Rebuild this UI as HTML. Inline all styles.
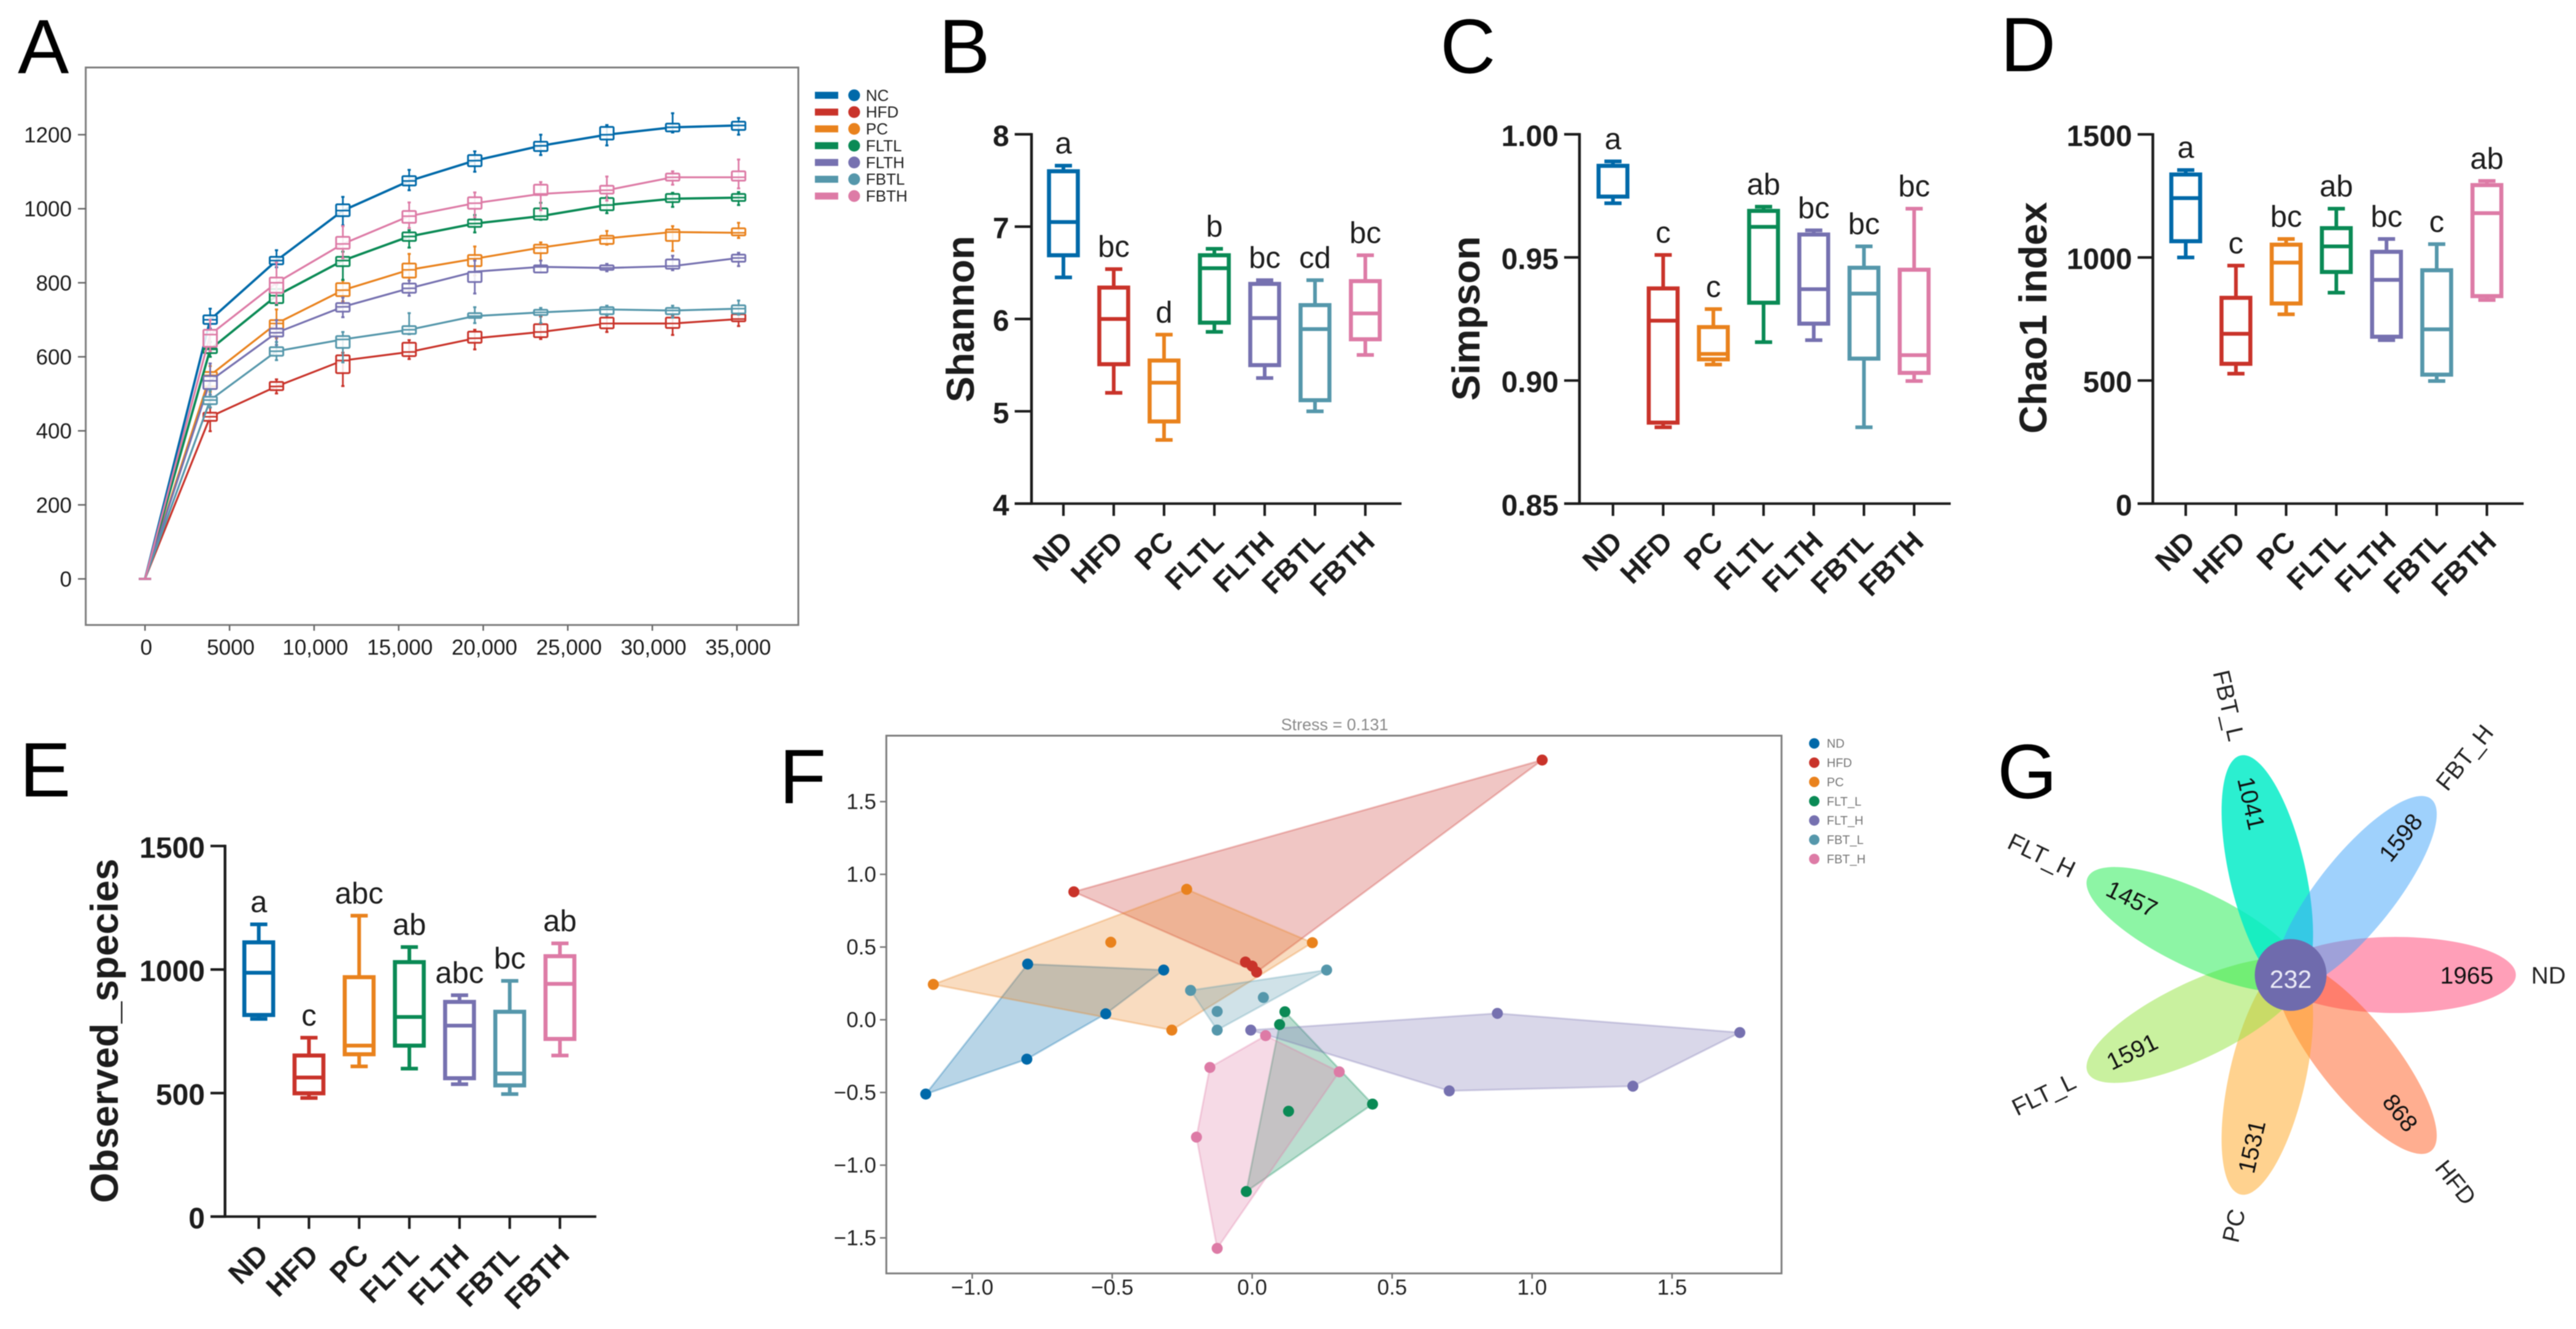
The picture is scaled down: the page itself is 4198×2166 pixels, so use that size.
<!DOCTYPE html>
<html lang="en">
<head>
<meta charset="utf-8">
<title>Gut microbiota diversity figure</title>
<style>
html,body{margin:0;padding:0;background:#fff;}
svg{display:block;filter:blur(0.9px);font-family:"Liberation Sans",Arial,sans-serif;}
</style>
</head>
<body>
<svg id="figure" xmlns="http://www.w3.org/2000/svg" width="4198" height="2166" viewBox="0 0 4198 2166">
  <rect width="4198" height="2166" fill="#fff"/>
  <g id="panelA"></g>
  <g id="panelB"></g>
  <g id="panelC"></g>
  <g id="panelD"></g>
  <g id="panelE"></g>
  <g id="panelF"></g>
  <g id="panelG"></g>
  <text x="29" y="119" font-size="125" fill="#000">A</text>
  <text x="1530" y="119" font-size="125" fill="#000">B</text>
  <text x="2347" y="119" font-size="125" fill="#000">C</text>
  <text x="3260" y="116" font-size="125" fill="#000">D</text>
  <text x="32" y="1298" font-size="125" fill="#000">E</text>
  <text x="1270" y="1309" font-size="125" fill="#000">F</text>
  <text x="3255" y="1301" font-size="125" fill="#000">G</text>
</svg>
<script>
/* ---------- shared ---------- */
const groupColors = ['#0069a9','#c9332a','#e9821d','#0a8a55','#7671b0','#5597ab','#dd7ba6'];
const categories = ['ND','HFD','PC','FLTL','FLTH','FBTL','FBTH'];

/* ---------- panel A: rarefaction ---------- */
const rareDepths = [0,3853,7775,11700,15620,19500,23400,27310,31200,35100];
const rareNames = ['NC','HFD','PC','FLTL','FLTH','FBTL','FBTH'];
const rareXTicks = [0,5000,10000,15000,20000,25000,30000,35000];
const rareXLabels = ['0','5000','10,000','15,000','20,000','25,000','30,000','35,000'];
const rareYTicks = [0,200,400,600,800,1000,1200];

const ncMid = [0,700,860,995,1075,1130,1170,1200,1220,1225];
const ncQ3  = [0,712,870,1012,1088,1145,1181,1221,1230,1235];
const ncQ1  = [0,689,850,980,1063,1115,1156,1187,1209,1213];
const ncHi  = [0,730,888,1032,1105,1155,1200,1226,1258,1245];
const ncLo  = [0,676,842,955,1050,1100,1145,1171,1206,1200];

const hfdMid = [0,438,520,590,613,650,667,690,690,702];
const hfdQ3  = [0,449,532,604,638,668,688,706,706,715];
const hfdQ1  = [0,427,510,556,602,638,653,677,678,696];
const hfdHi  = [0,463,539,611,645,673,709,712,712,717];
const hfdLo  = [0,399,501,521,594,620,648,667,659,683];

const pcMid = [0,550,690,780,835,865,895,920,937,935];
const pcQ3  = [0,559,699,799,852,875,903,927,944,947];
const pcQ1  = [0,520,676,764,814,845,880,905,913,928];
const pcHi  = [0,575,728,806,878,898,909,940,953,962];
const pcLo  = [0,505,650,750,779,820,860,903,886,921];

const fltlMid = [0,620,765,860,925,960,980,1010,1027,1030];
const fltlQ3  = [0,623,783,870,936,971,1001,1029,1040,1040];
const fltlQ1  = [0,610,745,845,913,951,971,996,1018,1021];
const fltlHi  = [0,640,795,884,942,983,1016,1031,1043,1045];
const fltlLo  = [0,600,740,808,895,936,970,988,1005,1010];

const flthMid = [0,535,665,735,785,830,843,840,845,867];
const flthQ3  = [0,548,676,745,798,829,847,847,863,876];
const flthQ1  = [0,513,655,722,773,802,828,835,838,857];
const flthHi  = [0,582,699,760,806,860,860,851,873,881];
const flthLo  = [0,498,632,707,765,771,828,831,834,845];

const fbtlMid = [0,483,615,647,673,710,720,728,725,730];
const fbtlQ3  = [0,492,626,656,683,718,727,734,732,739];
const fbtlQ1  = [0,472,603,624,662,705,713,715,715,717];
const fbtlHi  = [0,510,640,667,718,734,732,738,738,752];
const fbtlLo  = [0,463,591,585,661,691,691,712,706,714];

const fbthMid = [0,660,800,905,980,1015,1040,1050,1085,1085];
const fbthQ3  = [0,673,814,924,994,1031,1065,1062,1095,1101];
const fbthQ1  = [0,627,773,892,962,1000,1037,1041,1076,1076];
const fbthHi  = [0,700,855,953,1017,1044,1072,1087,1101,1133];
const fbthLo  = [0,615,745,866,948,977,996,1022,1065,1055];

/* ---------- panel B: Shannon ---------- */
const shannonTicks = [4,5,6,7,8];
const shannonLabels = ['4','5','6','7','8'];
const shannonHi  = [7.66,6.54,5.83,6.76,6.42,6.42,6.69];
const shannonQ3  = [7.60,6.34,5.55,6.69,6.38,6.15,6.41];
const shannonMed = [7.05,6.00,5.31,6.55,6.01,5.89,6.06];
const shannonQ1  = [6.69,5.51,4.89,5.96,5.50,5.12,5.78];
const shannonLo  = [6.45,5.20,4.69,5.86,5.36,5.00,5.61];
const shannonLetters = ['a','bc','d','b','bc','cd','bc'];

/* ---------- panel C: Simpson ---------- */
const simpsonTicks = [0.85,0.90,0.95,1.00];
const simpsonLabels = ['0.85','0.90','0.95','1.00'];
const simpsonHi  = [0.989,0.951,0.929,0.9706,0.961,0.9545,0.9698];
const simpsonQ3  = [0.9872,0.9374,0.9217,0.9689,0.9593,0.9458,0.945];
const simpsonMed = [0.9872,0.9243,0.9108,0.9624,0.9371,0.9353,0.9103];
const simpsonQ1  = [0.9747,0.8829,0.9086,0.9316,0.9231,0.9089,0.9031];
const simpsonLo  = [0.972,0.881,0.9065,0.9156,0.9164,0.881,0.8998];
const simpsonLetters = ['a','c','c','ab','bc','bc','bc'];

/* ---------- panel D: Chao1 ---------- */
const chaoTicks = [0,500,1000,1500];
const chaoLabels = ['0','500','1000','1500'];
const chaoHi  = [1355,967,1075,1198,1075,1054,1311];
const chaoQ3  = [1337,836,1052,1119,1023,948,1294];
const chaoMed = [1241,690,979,1045,909,708,1180];
const chaoQ1  = [1066,568,813,941,678,524,843];
const chaoLo  = [1000,528,769,857,664,498,827];
const chaoLetters = ['a','c','bc','ab','bc','c','ab'];

/* ---------- panel E: Observed species ---------- */
const obsTicks = [0,500,1000,1500];
const obsLabels = ['0','500','1000','1500'];
const obsHi  = [1183,724,1218,1091,896,954,1106];
const obsQ3  = [1110,652,969,1030,869,829,1054];
const obsMed = [987,563,692,808,773,579,942];
const obsQ1  = [816,499,657,692,560,531,719];
const obsLo  = [800,480,608,599,536,496,652];
const obsLetters = ['a','c','abc','ab','abc','bc','ab'];

/* ---------- panel F: NMDS ---------- */
const nmdsNames = ['ND','HFD','PC','FLT_L','FLT_H','FBT_L','FBT_H'];
const nmdsXTicks = [-1,-0.5,0,0.5,1,1.5];
const nmdsXLabels = ['\u22121.0','\u22120.5','0.0','0.5','1.0','1.5'];
const nmdsYTicks = [-1.5,-1,-0.5,0,0.5,1,1.5];
const nmdsYLabels = ['\u22121.5','\u22121.0','\u22120.5','0.0','0.5','1.0','1.5'];
const nmdsND   = [[-0.802,0.383],[-0.316,0.342],[-0.523,0.041],[-0.805,-0.271],[-1.166,-0.511]];
const nmdsHFD  = [[-0.637,0.880],[1.036,1.786],[-0.024,0.397],[0,0.369],[0.016,0.328]];
const nmdsPC   = [[-0.234,0.897],[-0.505,0.533],[0.215,0.530],[-1.139,0.243],[-0.287,-0.071]];
const nmdsFLTL = [[0.117,0.055],[0.098,-0.033],[0.430,-0.580],[0.130,-0.629],[-0.021,-1.181]];
const nmdsFLTH = [[-0.005,-0.071],[0.876,0.044],[1.742,-0.088],[1.360,-0.457],[0.704,-0.489]];
const nmdsFBTL = [[-0.220,0.202],[0.266,0.342],[0.040,0.153],[-0.125,0.057],[-0.125,-0.071]];
const nmdsFBTH = [[0.048,-0.109],[-0.151,-0.328],[0.311,-0.358],[-0.199,-0.807],[-0.125,-1.572]];

/* ---------- panel G: flower Venn ---------- */
const vennNames = ['ND','HFD','PC','FLT_L','FLT_H','FBT_L','FBT_H'];
const vennCounts = ['1965','868','1531','1591','1457','1041','1598'];
const vennCore = '232';
const vennColors = ['#ff3f71','#ff5d21','#ffa51f','#93e33f','#1beb4b','#00ecc6','#3fa4f9'];
const vennOpacity = [0.5,0.5,0.5,0.5,0.5,0.83,0.5];

/* ---------- helpers ---------- */
const SVGNS = 'http://www.w3.org/2000/svg';
function mk(parent, tag, attrs, text){
  const n = document.createElementNS(SVGNS, tag);
  for (const k in attrs) n.setAttribute(k, attrs[k]);
  if (text !== undefined) n.textContent = text;
  parent.appendChild(n);
  return n;
}
function line(parent, x1, y1, x2, y2, stroke, w){
  return mk(parent, 'line', {x1:x1, y1:y1, x2:x2, y2:y2, stroke:stroke, 'stroke-width':w});
}

/* ---------- panel A drawing ---------- */
(function(){
  const g = document.getElementById('panelA');
  const rx = v => 236.3 + v * 137.8 / 5000;
  const ry = v => 943.5 - v * 0.6033;
  const frame = mk(g, 'rect', {x:139.7, y:110, width:1161.3, height:908.6, fill:'none', stroke:'#7d7d7d', 'stroke-width':3});
  
  
  rareYTicks.forEach(function(t){
    const tick = line(g, 127, ry(t), 140, ry(t), '#666', 2.5);
    
    
    const lab = mk(g, 'text', {x:117, y:ry(t)+12.5, 'text-anchor':'end', 'font-size':35, fill:'#1a1a1a'}, String(t));
    
    
  });
  rareXTicks.forEach(function(t,i){
    const tick = line(g, rx(t), 1019, rx(t), 1028, '#666', 2.5);
    
    
    const lab = mk(g, 'text', {x:rx(t)+2, y:1067, 'text-anchor':'middle', 'font-size':35, fill:'#1a1a1a'}, rareXLabels[i]);
    
    
  });
  const series = [
    [ncMid,ncQ3,ncQ1,ncHi,ncLo],
    [hfdMid,hfdQ3,hfdQ1,hfdHi,hfdLo],
    [pcMid,pcQ3,pcQ1,pcHi,pcLo],
    [fltlMid,fltlQ3,fltlQ1,fltlHi,fltlLo],
    [flthMid,flthQ3,flthQ1,flthHi,flthLo],
    [fbtlMid,fbtlQ3,fbtlQ1,fbtlHi,fbtlLo],
    [fbthMid,fbthQ3,fbthQ1,fbthHi,fbthLo]
  ];
  series.forEach(function(s,si){
    const col = groupColors[si];
    const sg = mk(g, 'g', {});
    
    
    const pts = rareDepths.map(function(d,i){ return rx(d) + ',' + ry(s[0][i]); }).join(' ');
    const pl = mk(sg, 'polyline', {points:pts, fill:'none', stroke:col, 'stroke-width':si===0||si===3?3.8:3.2, 'stroke-linejoin':'round'});
    
    
    rareDepths.forEach(function(d,i){
      const x = rx(d);
      const w = line(sg, x, ry(s[3][i]), x, ry(s[4][i]), col, 2.8);
      
      
      const capW = i === 0 ? 10 : 2.6;
      const c1 = line(sg, x-capW, ry(s[3][i]), x+capW, ry(s[3][i]), col, 3.2);
      
      
      const c2 = line(sg, x-capW, ry(s[4][i]), x+capW, ry(s[4][i]), col, 3.2);
      
      
      if (i > 0) {
        const b = mk(sg, 'rect', {x:x-11, y:ry(s[1][i]), width:22, height:ry(s[2][i])-ry(s[1][i]), rx:1.5, fill:'#fff', 'fill-opacity':0.85, stroke:col, 'stroke-width':3});
        
        
        const m = line(sg, x-11, ry(s[0][i]), x+11, ry(s[0][i]), col, 2.6);
        
        
      }
    });
  });
  rareNames.forEach(function(n,i){
    const cy = 155.3 + i * 27.37;
    const sw = mk(g, 'rect', {x:1328, y:cy-5.7, width:38, height:11.4, fill:groupColors[i]});
    
    
    const dot = mk(g, 'circle', {cx:1392, cy:cy, r:9.6, fill:groupColors[i]});
    
    
    const t = mk(g, 'text', {x:1411, y:cy+9, 'font-size':26, fill:'#222'}, n);
    
    
  });
})();

/* ---------- panels B-E drawing ---------- */
function drawBoxPanel(id, geo, title, ticks, labels, hi, q3, med, q1, lo, letters){
  const g = document.getElementById(id);
  const min = ticks[0], max = ticks[ticks.length-1];
  const y = v => geo.yBottom - (v - min) / (max - min) * (geo.yBottom - geo.yTop);
  const x = i => geo.x0 + i * geo.step;
  const ink = '#1c1c1c';
  const ya = line(g, geo.axisX, geo.yTop-2, geo.axisX, geo.yBottom+2, ink, 4.5);
  
  
  const xa = line(g, geo.tickLeft, geo.yBottom, geo.axisEnd, geo.yBottom, ink, 4.2);
  
  
  ticks.forEach(function(t,i){
    const tk = line(g, geo.tickLeft, y(t), geo.axisX, y(t), ink, 4.2);
    
    
    const tl = mk(g, 'text', {x:geo.tickLeft-9, y:y(t)+19, 'text-anchor':'end', 'font-size':48, 'font-weight':'bold', fill:ink}, labels[i]);
    
    
  });
  const yt = mk(g, 'text', {x:0, y:0, transform:'translate(' + geo.titleX + ',' + geo.titleY + ') rotate(-90)', 'text-anchor':'middle', 'font-size':63.5, 'font-weight':'bold', fill:ink}, title);
  
  
  categories.forEach(function(c,i){
    const px = x(i), col = groupColors[i];
    const tk = line(g, px, geo.yBottom, px, geo.yBottom+20, ink, 4.2);
    
    
    const lab = mk(g, 'text', {x:0, y:0, transform:'translate(' + (px+18) + ',' + (geo.yBottom+65) + ') rotate(-45)', 'text-anchor':'end', 'font-size':47, 'font-weight':'bold', fill:ink}, c);
    
    
    const bg = mk(g, 'g', {});
    
    
    const w = line(bg, px, y(hi[i]), px, y(lo[i]), col, 6);
    
    
    const c1 = line(bg, px-14, y(hi[i]), px+14, y(hi[i]), col, 6);
    
    
    const c2 = line(bg, px-14, y(lo[i]), px+14, y(lo[i]), col, 6);
    
    
    const b = mk(bg, 'rect', {x:px-23.5, y:y(q3[i]), width:47, height:y(q1[i])-y(q3[i]), fill:'#fff', stroke:col, 'stroke-width':6.6});
    
    
    const m = line(bg, px-23.5, y(med[i]), px+23.5, y(med[i]), col, 6.2);
    
    
    const let1 = mk(g, 'text', {x:px, y:y(hi[i])-20, 'text-anchor':'middle', 'font-size':49, fill:ink}, letters[i]);
    
    
  });
}
drawBoxPanel('panelB', {axisX:1681, tickLeft:1653.6, axisEnd:2284, yTop:218.9, yBottom:820.8, x0:1733, step:82, titleX:1587, titleY:520},
  'Shannon', shannonTicks, shannonLabels, shannonHi, shannonQ3, shannonMed, shannonQ1, shannonLo, shannonLetters);
drawBoxPanel('panelC', {axisX:2574, tickLeft:2549, axisEnd:3179, yTop:218.9, yBottom:820.8, x0:2628.6, step:81.8, titleX:2411, titleY:519},
  'Simpson', simpsonTicks, simpsonLabels, simpsonHi, simpsonQ3, simpsonMed, simpsonQ1, simpsonLo, simpsonLetters);
drawBoxPanel('panelD', {axisX:3508.4, tickLeft:3483.6, axisEnd:4112.7, yTop:219, yBottom:820.8, x0:3562, step:81.8, titleX:3335, titleY:518},
  'Chao1 index', chaoTicks, chaoLabels, chaoHi, chaoQ3, chaoMed, chaoQ1, chaoLo, chaoLetters);
drawBoxPanel('panelE', {axisX:366.7, tickLeft:343, axisEnd:971.8, yTop:1378.8, yBottom:1982.8, x0:421.7, step:81.8, titleX:192, titleY:1680},
  'Observed_species', obsTicks, obsLabels, obsHi, obsQ3, obsMed, obsQ1, obsLo, obsLetters);

/* ---------- panel F drawing ---------- */
function convexHull(points){
  const p = points.slice().sort(function(a,b){ return a[0]-b[0] || a[1]-b[1]; });
  const cross = function(o,a,b){ return (a[0]-o[0])*(b[1]-o[1]) - (a[1]-o[1])*(b[0]-o[0]); };
  const lower = [], upper = [];
  p.forEach(function(q){
    while (lower.length >= 2 && cross(lower[lower.length-2], lower[lower.length-1], q) <= 0) lower.pop();
    lower.push(q);
  });
  p.slice().reverse().forEach(function(q){
    while (upper.length >= 2 && cross(upper[upper.length-2], upper[upper.length-1], q) <= 0) upper.pop();
    upper.push(q);
  });
  lower.pop(); upper.pop();
  return lower.concat(upper);
}
(function(){
  const g = document.getElementById('panelF');
  const fx = v => 2040.6 + v * 456.2;
  const fy = v => 1662 - v * 237;
  const title = mk(g, 'text', {x:2175, y:1190, 'text-anchor':'middle', 'font-size':27, fill:'#8a8a8a'}, 'Stress = 0.131');
  
  
  const frame = mk(g, 'rect', {x:1444.4, y:1199, width:1458.9, height:876.4, fill:'none', stroke:'#7d7d7d', 'stroke-width':3});
  
  
  nmdsXTicks.forEach(function(t,i){
    const tk = line(g, fx(t), 2075, fx(t), 2084, '#777', 2.5);
    
    
    const lab = mk(g, 'text', {x:fx(t), y:2110, 'text-anchor':'middle', 'font-size':35, fill:'#222'}, nmdsXLabels[i]);
    
    
  });
  nmdsYTicks.forEach(function(t,i){
    const tk = line(g, 1434, fy(t), 1444, fy(t), '#777', 2.5);
    
    
    const lab = mk(g, 'text', {x:1428, y:fy(t)+12, 'text-anchor':'end', 'font-size':35, fill:'#222'}, nmdsYLabels[i]);
    
    
  });
  const groups = [nmdsND,nmdsHFD,nmdsPC,nmdsFLTL,nmdsFLTH,nmdsFBTL,nmdsFBTH];
  groups.forEach(function(pts,i){
    const hull = convexHull(pts).map(function(p){ return fx(p[0]) + ',' + fy(p[1]); }).join(' ');
    const poly = mk(g, 'polygon', {points:hull, fill:groupColors[i], 'fill-opacity':0.28, stroke:groupColors[i], 'stroke-opacity':0.3, 'stroke-width':3});
    
    
  });
  groups.forEach(function(pts,i){
    pts.forEach(function(p){
      const c = mk(g, 'circle', {cx:fx(p[0]), cy:fy(p[1]), r:9, fill:groupColors[i]});
      
      
    });
    const ly = 1211.6 + i * 31.4;
    const d = mk(g, 'circle', {cx:2956.6, cy:ly, r:8.5, fill:groupColors[i]});
    
    
    const t = mk(g, 'text', {x:2977, y:ly+7, 'font-size':20, fill:'#777'}, nmdsNames[i]);
    
    
  });
})();

/* ---------- panel G drawing ---------- */
(function(){
  const g = document.getElementById('panelG');
  const cx = 3733, cy = 1589;
  const step = 360 / vennNames.length;
  vennNames.forEach(function(n,i){
    const e = mk(g, 'ellipse', {cx:171, cy:0, rx:196, ry:62, fill:vennColors[i], 'fill-opacity':vennOpacity[i], transform:'translate(' + cx + ',' + cy + ') rotate(' + (i*step) + ')'});
    
    
  });
  vennNames.forEach(function(n,i){
    const th = i * step, rad = th * Math.PI / 180;
    const flip = th > 90 && th < 270;
    const upright = flip ? th - 180 : th > 270 ? th - 360 : th;
    const nx = cx + 287 * Math.cos(rad), ny = cy + 287 * Math.sin(rad);
    const num = mk(g, 'text', {x:0, y:14, 'text-anchor':'middle', 'font-size':39, fill:'#111', transform:'translate(' + nx + ',' + ny + ') rotate(' + upright + ')'}, vennCounts[i]);
    
    
    const lx = cx + 392 * Math.cos(rad), ly = cy + 392 * Math.sin(rad);
    const lab = mk(g, 'text', {x:0, y:14, 'text-anchor':flip ? 'end' : 'start', 'font-size':39, fill:'#222', transform:'translate(' + lx + ',' + ly + ') rotate(' + upright + ')'}, n);
    
    
  });
  const core = mk(g, 'circle', {cx:cx, cy:cy, r:58.5, fill:'#6f6bad'});
  
  
  const ct = mk(g, 'text', {x:cx, y:cy+21, 'text-anchor':'middle', 'font-size':41, fill:'#ebebf7'}, vennCore);
  
  
})();
</script>
</body>
</html>
